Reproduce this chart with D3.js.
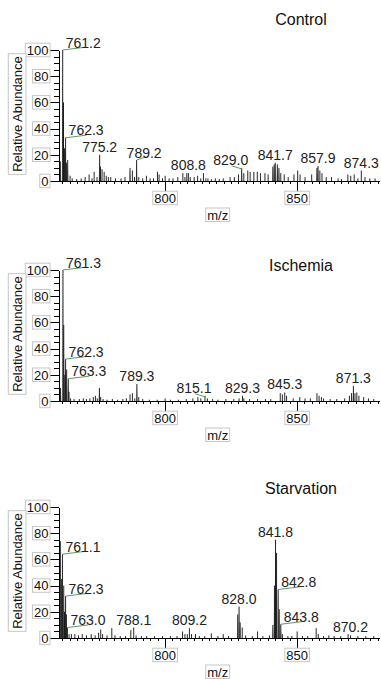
<!DOCTYPE html>
<html>
<head>
<meta charset="utf-8">
<script src="https://cdn.jsdelivr.net/npm/d3@7"></script>
<style>
    body { margin: 0; background: #fff; }
    svg { display: block; font-family: "Liberation Sans", Arial, sans-serif; }
</style>
</head>
<body>
<div id="chart"></div>
<script>
// spectra: [m/z, relative abundance]
const panelNames = ['Control', 'Ischemia', 'Starvation'];
const mzRange = [759.8, 881];
const yTickValues = [0, 20, 40, 60, 80, 100];
const xTickValues = [800, 850];

const controlPeaks = [
    [760.3, 15], [761.2, 100], [761.5, 60], [761.9, 25], [762.3, 33], [762.6, 14], [763.1, 16], [764.0, 4],
    [764.8, 2], [766.5, 1.5], [768.2, 2], [769.7, 3], [771.2, 5], [772.3, 2], [773.1, 7], [774.2, 3],
    [775.2, 20], [775.5, 11], [776.1, 9], [776.9, 7], [777.7, 4], [778.5, 3], [779.4, 3], [781.2, 2],
    [783.3, 2], [784.8, 3], [786.7, 10], [787.6, 8], [788.4, 3], [789.2, 16], [790.0, 3], [791.5, 2],
    [792.9, 4], [794.3, 2], [795.6, 2], [797.1, 7], [797.7, 5], [799.0, 2], [800.0, 4], [801.5, 2],
    [803.0, 2], [804.8, 3], [806.7, 6], [807.5, 3], [808.2, 6], [808.8, 6], [809.5, 3], [811.0, 3],
    [812.3, 4], [813.5, 2], [814.5, 6], [815.4, 2], [816.2, 2], [817.5, 1.5], [819.0, 2], [820.5, 1.5],
    [822.0, 2], [824.6, 3], [826.2, 3], [827.8, 5], [829.0, 10], [829.8, 6], [831.3, 8], [832.2, 7],
    [833.6, 7], [834.9, 7], [836.1, 6], [837.8, 6], [839.0, 5], [840.8, 11], [841.3, 12.7], [841.7, 14],
    [842.5, 12.7], [843.1, 10], [843.8, 6], [845.1, 5], [846.6, 3], [848.8, 5], [850.2, 8], [851.1, 5],
    [853.0, 3], [855.5, 5], [857.5, 10], [857.9, 11.5], [858.6, 8], [859.4, 6], [861.0, 3], [863.0, 3],
    [865.5, 2], [866.8, 1.5], [869.2, 5], [870.3, 4], [871.6, 5], [873.0, 2], [874.3, 8], [875.7, 3],
    [877.5, 2], [879.5, 2]
];

const ischemiaPeaks = [
    [760.4, 10], [761.3, 100], [761.6, 58], [762.0, 20], [762.3, 32], [762.7, 24], [763.3, 17], [763.6, 7],
    [764.2, 2], [765.5, 1.5], [767.5, 1.5], [769.0, 2], [770.2, 1.5], [771.5, 2], [772.8, 3], [773.6, 4],
    [774.3, 2], [775.1, 10], [775.6, 3], [776.5, 1.5], [778.0, 1], [780.0, 1.5], [782.0, 1], [784.0, 1.5],
    [785.3, 2], [786.7, 5], [787.6, 6], [788.5, 2], [789.3, 13], [790.0, 3], [791.5, 1.5], [794.0, 1],
    [797.0, 1], [800.0, 2], [802.0, 1], [805.0, 1], [808.0, 1.5], [810.5, 2], [812.4, 3], [813.5, 2],
    [815.1, 4], [816.0, 2], [818.0, 1.5], [820.0, 1], [823.0, 1.5], [826.0, 1.5], [828.0, 2], [829.3, 4],
    [829.8, 2], [832.0, 1.5], [835.0, 1.5], [838.0, 1.5], [840.0, 1.5], [843.6, 6], [844.4, 5], [845.3, 6.5],
    [846.0, 4], [848.5, 2], [851.0, 3], [853.0, 2], [855.0, 2], [857.5, 6], [858.3, 4], [859.2, 3],
    [860.0, 2], [862.5, 1.5], [865.0, 1.5], [868.0, 2], [869.8, 4], [870.6, 6], [871.3, 11.5], [871.9, 6],
    [872.6, 6.5], [873.4, 4], [875.2, 3], [877.0, 2], [879.0, 1.5]
];

const starvationPeaks = [
    [760.3, 74], [760.8, 45], [761.1, 64], [761.6, 40], [761.9, 20], [762.3, 32], [762.6, 18], [763.0, 8],
    [763.6, 3], [764.5, 3], [765.8, 3], [767.2, 2], [768.6, 3], [770.2, 2], [772.0, 3], [773.5, 2],
    [774.8, 4], [775.6, 6.5], [776.3, 3], [778.0, 2], [779.8, 7.5], [781.0, 2], [783.0, 1.5], [785.0, 1.5],
    [787.0, 6], [788.1, 8], [789.0, 2], [791.0, 1.5], [793.0, 1.5], [796.0, 1.5], [799.0, 1.5], [802.0, 1.5],
    [804.5, 1.5], [806.6, 5], [807.5, 3], [808.4, 3], [809.2, 7.5], [810.0, 3], [811.5, 3], [813.0, 1.5],
    [815.0, 1.5], [817.5, 3.5], [820.0, 1.5], [822.0, 3], [824.0, 1.5], [827.5, 18], [828.0, 24], [828.4, 12],
    [829.2, 8], [830.5, 2], [833.0, 1.5], [835.0, 5], [837.0, 1.5], [839.5, 2], [840.8, 10], [841.4, 40],
    [841.8, 75], [842.2, 65], [842.8, 37], [843.2, 22], [843.8, 10.5], [844.4, 3], [846.5, 1.5], [848.0, 1.5],
    [850.0, 5], [852.0, 1.5], [854.0, 1.5], [857.2, 7.5], [858.0, 3], [860.0, 1.5], [862.0, 2], [864.0, 1.5],
    [866.5, 1.5], [869.3, 3], [870.2, 2], [873.0, 1.5], [876.0, 1.5], [879.0, 1.5]
];

// annotated peaks: [text, how the label sits]
const controlLabels = [
    ['761.2', 'right'], ['762.3', 'right'], ['775.2', 'top'], ['789.2', 'short'], ['808.8', 'top'],
    ['829.0', 'left'], ['841.7', 'top'], ['857.9', 'top'], ['874.3', 'top']
];
const ischemiaLabels = [
    ['761.3', 'right'], ['762.3', 'right'], ['763.3', 'right'], ['789.3', 'top'], ['815.1', 'left'],
    ['829.3', 'top'], ['845.3', 'top'], ['871.3', 'top']
];
const starvationLabels = [
    ['761.1', 'right'], ['762.3', 'right'], ['763.0', 'right'], ['788.1', 'top'], ['809.2', 'top'],
    ['828.0', 'top'], ['841.8', 'top'], ['842.8', 'right'], ['843.8', 'right'], ['870.2', 'top']
];

const panelPeaks = [controlPeaks, ischemiaPeaks, starvationPeaks];
const panelLabels = [controlLabels, ischemiaLabels, starvationLabels];

const width = 381, height = 679;
const panelShift = [0, 220, 457];
const titleY = [25, 270.5, 494];
const leaderColor = '#5f9a5f';
const boxColor = '#c6c6c6';

const svg = d3.select('#chart')
    .append('svg')
    .attr('width', width)
    .attr('height', height);

const xScale = d3.scaleLinear()
    .domain(mzRange)
    .range([59, 379]);

const minorMz = d3.range(-14, 30).map(k => 800 + k * 50 / 18);

function boxedText(g, x, y, str, anchor, size) {
    const t = g.append('text')
        .attr('x', x)
        .attr('y', y)
        .attr('text-anchor', anchor)
        .attr('font-size', size)
        .attr('fill', '#111')
        .text(str);
    const w = t.node().getComputedTextLength();
    const x0 = anchor === 'end' ? x - w : anchor === 'middle' ? x - w / 2 : x;
    g.insert('rect', () => t.node())
        .attr('x', x0 - 1.5)
        .attr('y', y - 11.5)
        .attr('width', w + 3)
        .attr('height', 13.5)
        .attr('fill', '#fff')
        .attr('stroke', boxColor);
}

panelNames.forEach((name, i) => {
    const y0 = 181 + panelShift[i];
    const yScale = d3.scaleLinear()
        .domain([0, 100])
        .range([y0, y0 - 131]);
    const g = svg.append('g');
    const peaks = panelPeaks[i];

    // title
    g.append('text')
        .attr('x', 301)
        .attr('y', titleY[i])
        .attr('text-anchor', 'middle')
        .attr('font-size', 16)
        .attr('fill', '#111')
        .text(name);

    // profile shading under the bigger peaks
    g.selectAll('.profile')
        .data(peaks.filter(d => d[1] >= 10))
        .join('path')
        .attr('class', 'profile')
        .attr('d', d => {
            const x = xScale(d[0]);
            return `M${x - 1},${y0}L${x},${yScale(d[1])}L${x + 1},${y0}Z`;
        })
        .attr('fill', '#b4b4b4');

    g.selectAll('.peak')
        .data(peaks)
        .join('line')
        .attr('class', 'peak')
        .attr('x1', d => xScale(d[0]))
        .attr('x2', d => xScale(d[0]))
        .attr('y1', y0)
        .attr('y2', d => yScale(d[1]))
        .attr('stroke', '#000')
        .attr('stroke-width', 0.85);

    // x axis
    const xMinor = g.append('g')
        .attr('transform', `translate(0,${y0})`)
        .call(d3.axisBottom(xScale).tickValues(minorMz.filter(v => v > mzRange[0] && v < mzRange[1]))
            .tickSize(3).tickSizeOuter(0).tickFormat(''));
    xMinor.selectAll('line, path').attr('shape-rendering', 'crispEdges');

    const xMajor = g.append('g')
        .attr('transform', `translate(0,${y0})`)
        .call(d3.axisBottom(xScale).tickValues(xTickValues).tickSize(10.5).tickFormat(''));
    xMajor.select('.domain').remove();
    xMajor.selectAll('line').attr('shape-rendering', 'crispEdges');

    xTickValues.forEach(v => boxedText(g, xScale(v), y0 + 21.7, v, 'middle', 13));
    boxedText(g, 217.7, y0 + 38.5, 'm/z', 'middle', 13);

    // y axis
    const yMinor = g.append('g')
        .attr('transform', 'translate(59,0)')
        .call(d3.axisLeft(yScale).tickValues(d3.range(0, 101, 5)).tickSize(5.5).tickSizeOuter(0).tickFormat(''));
    yMinor.selectAll('line, path').attr('shape-rendering', 'crispEdges');

    const yMajor = g.append('g')
        .attr('transform', 'translate(59,0)')
        .call(d3.axisLeft(yScale).tickValues(yTickValues).tickSize(9).tickFormat(''));
    yMajor.select('.domain').remove();
    yMajor.selectAll('line').attr('shape-rendering', 'crispEdges');

    yTickValues.forEach(v => boxedText(g, 48.5, yScale(v) + 4.7, v, 'end', 13));

    const yl = g.append('g')
        .attr('transform', `translate(21.5,${y0 - 67}) rotate(-90)`);
    const ylText = yl.append('text')
        .attr('text-anchor', 'middle')
        .attr('font-size', 13)
        .attr('fill', '#111')
        .text('Relative Abundance');
    const ylw = ylText.node().getComputedTextLength();
    yl.insert('rect', 'text')
        .attr('x', -ylw / 2 - 2.5)
        .attr('y', -13.2)
        .attr('width', ylw + 5)
        .attr('height', 17.7)
        .attr('fill', '#fff')
        .attr('stroke', boxColor);

    // peak annotations
    panelLabels[i].forEach(([txt, kind]) => {
        const mz = +txt;
        const p = d3.least(peaks, d => Math.abs(d[0] - mz));
        const px = xScale(p[0]), py = yScale(p[1]);
        let tx = px, ty = py - 3, anchor = 'middle';
        if (kind === 'right') {
            tx = px + 3; ty = py - 2.5; anchor = 'start';
            g.append('line')
                .attr('x1', px).attr('y1', py)
                .attr('x2', px + 21).attr('y2', py - 2.6)
                .attr('stroke', leaderColor);
        } else if (kind === 'short') {
            tx = px + 7.5; ty = py - 2;
            g.append('line')
                .attr('x1', px).attr('y1', py)
                .attr('x2', px + 8).attr('y2', py - 2.7)
                .attr('stroke', leaderColor);
        } else if (kind === 'left') {
            tx = px - 11; ty = py - 3;
            g.append('line')
                .attr('x1', px - 10).attr('y1', ty + 1)
                .attr('x2', px).attr('y2', py + 1)
                .attr('stroke', leaderColor);
        }
        g.append('text')
            .attr('x', tx)
            .attr('y', ty)
            .attr('text-anchor', anchor)
            .attr('font-size', 14)
            .attr('fill', '#222')
            .text(txt);
    });
});
</script>
</body>
</html>
